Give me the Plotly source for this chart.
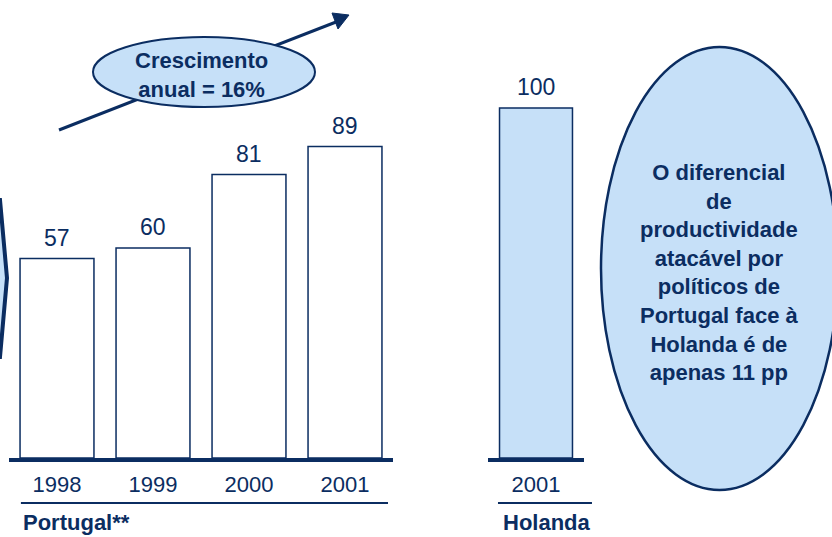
import plotly.graph_objects as go

# ---- data ----
years_pt = ["1998", "1999", "2000", "2001"]
values_pt = [57, 60, 81, 89]
years_nl = ["2001"]
values_nl = [100]
group_pt = "Portugal**"
group_nl = "Holanda"
growth_text = "Crescimento<br>anual = 16%"
note_lines = ["O diferencial", "de", "productividade", "atacável por",
              "políticos de", "Portugal face à", "Holanda é de", "apenas 11 pp"]

# ---- style ----
W, H = 832, 537
NAVY = "#0b2d61"
LIGHT = "#c6e0f8"
FONT = "Liberation Sans, Arial, Helvetica, sans-serif"

def px(x):
    return x / W

def py(y):
    return 1 - y / H

base_y = 458          # pixel row of the baseline
top_val_px = 108      # pixel row of value 100
unit = (base_y - top_val_px) / 100.0
y_top = base_y / unit

fig = go.Figure()
fig.add_trace(go.Bar(
    x=years_pt, y=values_pt, xaxis="x", yaxis="y", width=0.77,
    marker=dict(color="white", line=dict(color=NAVY, width=1.5)),
    hoverinfo="skip", showlegend=False,
))
fig.add_trace(go.Bar(
    x=years_nl, y=values_nl, xaxis="x2", yaxis="y", width=0.76,
    marker=dict(color=LIGHT, line=dict(color=NAVY, width=1.5)),
    hoverinfo="skip", showlegend=False,
))

annotations = []
for xs, vs, ax in [(years_pt, values_pt, "x"), (years_nl, values_nl, "x2")]:
    for i, v in enumerate(vs):
        annotations.append(dict(
            x=i, y=v, xref=ax, yref="y", text=str(v), showarrow=False,
            yanchor="bottom", yshift=6,
            font=dict(family=FONT, size=23, color=NAVY),
        ))

# group labels
annotations.append(dict(x=0.031, y=0, xref="x domain", yref="paper",
                        text="<b>%s</b>" % group_pt, showarrow=False,
                        xanchor="left", yanchor="bottom",
                        font=dict(family=FONT, size=22, color=NAVY)))
annotations.append(dict(x=0.135, y=0, xref="x2 domain", yref="paper",
                        text="<b>%s</b>" % group_nl, showarrow=False,
                        xanchor="left", yanchor="bottom",
                        font=dict(family=FONT, size=22, color=NAVY)))

# growth ellipse text
annotations.append(dict(x=px(201), y=py(75), xref="paper", yref="paper",
                        text="<b>%s</b>" % growth_text, showarrow=False,
                        xanchor="center", yanchor="middle",
                        font=dict(family=FONT, size=22, color=NAVY)))
# note ellipse text
annotations.append(dict(x=px(719), y=py(272), xref="paper", yref="paper",
                        text="<b>%s</b>" % "<br>".join(note_lines), showarrow=False,
                        xanchor="center", yanchor="middle",
                        font=dict(family=FONT, size=22, color=NAVY)))

shapes = [
    # growth arrow line
    dict(type="line", xref="paper", yref="paper",
         x0=px(59), y0=py(130), x1=px(336), y1=py(22),
         line=dict(color=NAVY, width=3), layer="above"),
    # arrow head
    dict(type="path", xref="paper", yref="paper",
         path="M %f %f L %f %f L %f %f Z" % (px(349), py(15), px(332), py(13), px(338), py(29)),
         fillcolor=NAVY, line=dict(color=NAVY, width=1), layer="above"),
    # growth ellipse
    dict(type="circle", xref="paper", yref="paper",
         x0=px(93), x1=px(315), y0=py(37), y1=py(107),
         fillcolor=LIGHT, line=dict(color=NAVY, width=2), layer="above"),
    # note ellipse
    dict(type="circle", xref="paper", yref="paper",
         x0=px(601), x1=px(838), y0=py(47), y1=py(490),
         fillcolor=LIGHT, line=dict(color=NAVY, width=2.5), layer="above"),
    # partial chevron at left edge
    dict(type="path", xref="paper", yref="paper",
         path="M %f %f L %f %f L %f %f L %f %f L %f %f Z" % (
             px(-40), py(200), px(0), py(200), px(7), py(278),
             px(0), py(357), px(-40), py(357)),
         fillcolor=LIGHT, line=dict(color=NAVY, width=4), layer="above"),
    # underlines
    dict(type="line", xref="x domain", yref="paper", x0=0.031, x1=0.987,
         y0=py(503), y1=py(503), line=dict(color=NAVY, width=2)),
    dict(type="line", xref="x2 domain", yref="paper", x0=0.104, x1=1.083,
         y0=py(503), y1=py(503), line=dict(color=NAVY, width=2)),
]

axis_common = dict(type="category", showgrid=False, zeroline=False,
                   showline=True, linewidth=4, linecolor=NAVY, ticks="",
                   ticklabelstandoff=4,
                   tickfont=dict(family=FONT, size=22, color=NAVY),
                   fixedrange=True)

fig.update_layout(
    width=W, height=H, autosize=False,
    margin=dict(l=0, r=0, t=0, b=0, pad=0),
    paper_bgcolor="white", plot_bgcolor="rgba(0,0,0,0)",
    showlegend=False,
    xaxis=dict(domain=[px(9), px(393)], range=[-0.5, 3.5], anchor="y", **axis_common),
    xaxis2=dict(domain=[px(488), px(584)], range=[-0.5, 0.5], anchor="y", **axis_common),
    yaxis=dict(domain=[py(base_y), 1], range=[0, y_top], visible=False,
               showgrid=False, zeroline=False, fixedrange=True),
    annotations=annotations,
    shapes=shapes,
)

fig.write_html("out.html", config={"displayModeBar": False},
               post_script="document.body.style.margin='0';")
